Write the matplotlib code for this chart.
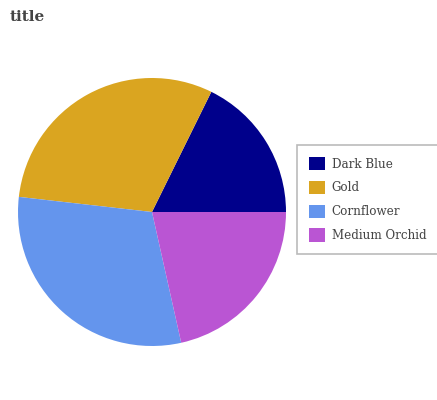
import matplotlib.pyplot as plt

labels = ['Dark Blue', 'Gold', 'Cornflower', 'Medium Orchid']
values = [17.7, 30.5, 30.3, 21.5]
colors = ['#00008b', '#daa520', '#6495ed', '#ba55d3']

plt.rcParams['font.family'] = ['DejaVu Serif']

W, H = 437, 400
fig = plt.figure(figsize=(W / 100, H / 100), dpi=100)

# pie centre (152, 212) px, radius 134 px
cx, cy, r = 152, 212, 134
ax = fig.add_axes([(cx - r) / W, (H - cy - r) / H, 2 * r / W, 2 * r / H])
wedges, _ = ax.pie(values, colors=colors, startangle=0, counterclock=True,
                   radius=1, wedgeprops=dict(linewidth=0))
ax.set_xlim(-1, 1)
ax.set_ylim(-1, 1)
ax.axis('off')

fig.text(10 / W, 1 - 17 / H, 'title', fontsize=11, fontweight='bold',
         color='#444444', va='center', ha='left')

# legend box runs past the right edge, as in the reference
leg = fig.legend(wedges, labels, loc='upper left', mode='expand',
                 bbox_to_anchor=(297 / W, 1 - 145 / H, 150 / W, 0),
                 fontsize=8.6, frameon=True, fancybox=False,
                 edgecolor='#aaaaaa', handlelength=1.35, handleheight=1.35,
                 handletextpad=0.55, labelspacing=0.85, borderpad=1.0,
                 borderaxespad=0)
leg.get_frame().set_linewidth(1.2)
for t in leg.get_texts():
    t.set_color('#444444')

fig.savefig('out.png', dpi=100)
